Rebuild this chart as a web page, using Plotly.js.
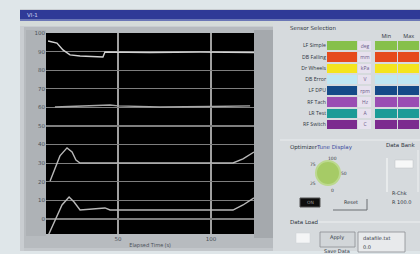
<!DOCTYPE html>
<html>
<head>
<meta charset="utf-8">
<script src="https://cdn.plot.ly/plotly-3.0.1.min.js"></script>
<style>
html,body{margin:0;padding:0;background:#dfe6e9;}
#chart{width:420px;height:254px;}
</style>
</head>
<body>
<div id="chart"></div>
<script>
// ---- Data: main strip chart (time vs. sensor value) ----
const line1X = [12.4, 17.2, 20.4, 24.2, 29.6, 37.6, 41.9, 43.0, 67.2, 94.1, 123.1];
const line1Y = [95.7, 94.6, 90.9, 88.2, 87.6, 87.1, 87.1, 89.8, 89.5, 89.8, 89.5];
const line2X = [16.1, 30.0, 43.0, 45.7, 50.0, 72.6, 100.0, 121.0];
const line2Y = [60.2, 60.8, 61.3, 61.3, 60.8, 60.2, 60.5, 60.8];
const line3X = [13.5, 16.1, 18.8, 22.6, 25.3, 27.4, 29.6, 51.1, 83.3, 111.8, 117.2, 123.1];
const line3Y = [20.4, 27.4, 33.9, 38.2, 36.0, 31.7, 30.1, 30.1, 30.1, 30.1, 32.3, 36.0];
const line4X = [12.4, 16.1, 19.9, 23.7, 26.4, 29.6, 35.0, 43.0, 45.7, 83.3, 111.8, 117.2, 123.1];
const line4Y = [-9.1, -0.5, 7.5, 11.8, 9.1, 4.8, 5.4, 5.9, 4.8, 4.8, 4.8, 7.5, 11.3];

// ---- Data: sensor selection table ----
const sensorNames = ["LF Simple", "DB Falling", "Dr Wheels", "DB Error", "LF DPU", "RF Tach", "LR Test", "RF Switch"];
const sensorColors = ["#86c04a", "#e64a1c", "#f4e41e", "#bfe6f3", "#154a88", "#9a4db3", "#1b9b97", "#7c2b8f"];
const sensorUnits = ["deg", "mm", "kPa", "V", "rpm", "Hz", "A", "C"];
const limitCols = ["Min", "Max"];

const W = 420, H = 254;
const fx = p => p / W, fy = p => 1 - p / H;
function rect(x0, y0, x1, y1, fill, lc, lw, layer) {
  return {type: 'rect', xref: 'paper', yref: 'paper', x0: fx(x0), x1: fx(x1), y0: fy(y1), y1: fy(y0),
    fillcolor: fill, line: {color: lc || fill, width: lw === undefined ? 0 : lw}, layer: layer || 'below'};
}
function seg(x0, y0, x1, y1, c, w) {
  return {type: 'line', xref: 'paper', yref: 'paper', x0: fx(x0), x1: fx(x1), y0: fy(y0), y1: fy(y1),
    line: {color: c, width: w || 1}, layer: 'above'};
}
function txt(x, y, s, size, color, anchor) {
  return {xref: 'paper', yref: 'paper', x: fx(x), y: fy(y), text: s, showarrow: false,
    xanchor: anchor || 'left', yanchor: 'middle', font: {size: size || 6, color: color || '#333a44', family: 'DejaVu Sans'}};
}

const lineStyle = (c) => ({color: c, width: 1.4});
const traces = [
  {x: line1X, y: line1Y, type: 'scatter', mode: 'lines', line: lineStyle('#d2d2d2'), xaxis: 'x', yaxis: 'y', hoverinfo: 'skip'},
  {x: line2X, y: line2Y, type: 'scatter', mode: 'lines', line: lineStyle('#a8a8a8'), xaxis: 'x', yaxis: 'y', hoverinfo: 'skip'},
  {x: line3X, y: line3Y, type: 'scatter', mode: 'lines', line: lineStyle('#b8b8b8'), xaxis: 'x', yaxis: 'y', hoverinfo: 'skip'},
  {x: line4X, y: line4Y, type: 'scatter', mode: 'lines', line: lineStyle('#b8b8b8'), xaxis: 'x', yaxis: 'y', hoverinfo: 'skip'}
];

const idx = sensorNames.map((_, i) => i);
const cs = sensorColors.map((c, i) => [i / (sensorColors.length - 1), c]);
traces.push({type: 'heatmap', x: ['Signal'], y: sensorNames, z: idx.map(i => [i]), colorscale: cs, zmin: 0, zmax: 7,
  showscale: false, ygap: 2, xaxis: 'x2', yaxis: 'y2', hoverinfo: 'skip'});
traces.push({type: 'heatmap', x: ['Unit'], y: sensorNames, z: idx.map(() => [0]), colorscale: [[0, '#e7e1ee'], [1, '#e7e1ee']],
  showscale: false, ygap: 2, xaxis: 'x3', yaxis: 'y2', hoverinfo: 'skip',
  text: sensorUnits.map(u => [u]), texttemplate: '%{text}', textfont: {size: 5, color: '#6a5a8a'}});
traces.push({type: 'heatmap', x: limitCols, y: sensorNames, z: idx.map(i => [i, i]), colorscale: cs, zmin: 0, zmax: 7,
  showscale: false, ygap: 2, xgap: 1, xaxis: 'x4', yaxis: 'y2', hoverinfo: 'skip'});

const shapes = [
  rect(0, 0, 20, 254, '#dfe6e9'),
  rect(0, 0, 420, 9, '#dfe6e9'),
  rect(0, 251, 420, 254, '#dfe6e9'),
  rect(20, 10, 420, 20, '#2f3a97'),
  rect(20, 19, 420, 21, '#6b77b6'),
  rect(20, 21, 420, 26, '#d5dbd9'),
  rect(24, 27, 273, 33, '#b7bbbf'),
  rect(24, 234, 273, 250, '#b7bbbf'),
  rect(24, 33, 46, 234, '#b7bbbf'),
  rect(26, 30, 46, 236, '#aeb2b6'),
  rect(254, 30, 273, 238, '#a5a9ad'),
  rect(273, 22, 420, 251, '#d6dadd'),
  rect(24, 248, 273, 251, '#c3c7cb'),
  seg(280, 140, 420, 140, '#e9ecee', 1),
  {type: 'circle', xref: 'paper', yref: 'paper', x0: fx(316), x1: fx(340), y0: fy(185), y1: fy(161),
    fillcolor: '#a6cb66', line: {color: '#bcd98e', width: 2}, layer: 'above'},
  rect(300, 198, 320, 207, '#0e0e0e', '#555', 1, 'above'),
  seg(333, 210, 367, 210, '#6a6e72', 1),
  seg(367, 199, 367, 210, '#6a6e72', 1),
  seg(387, 158, 387, 192, '#eef0f1', 1.5),
  seg(418, 150, 418, 192, '#eef0f1', 1),
  rect(395, 160, 413, 168, '#f7f8f8', '#bfc3c6', 0.5, 'above'),
  seg(310, 222, 420, 222, '#eef0f1', 1),
  rect(296, 233, 310, 243, '#f4f5f6', '#cfd2d4', 0.5, 'above'),
  rect(320, 232, 355, 247, '#d2d6d9', '#8a8e92', 0.8, 'above'),
  rect(358, 232, 405, 252, '#e8eaec', '#8a8e92', 0.8, 'above')
];

const annotations = [
  txt(25, 14.5, 'VI-1', 5.5, '#c8cff0'),
  txt(288, 28, 'Sensor Selection', 5.5, '#2d3440'),
  txt(288, 147, 'Optimizer', 5.5, '#2d3440'),
  txt(314, 147, 'Tune Display', 5.5, '#3a4aa0'),
  txt(384, 145, 'Data Bank', 5.5, '#2d3440'),
  txt(332, 158, '100', 4.5, '#3a3f46', 'center'),
  txt(313, 164, '75', 4.5, '#3a3f46', 'center'),
  txt(344, 173, '50', 4.5, '#3a3f46', 'center'),
  txt(313, 183, '25', 4.5, '#3a3f46', 'center'),
  txt(332, 190, '0', 4.5, '#3a3f46', 'center'),
  txt(310, 202.5, 'ON', 4.5, '#9a9a9a', 'center'),
  txt(351, 202, 'Reset', 5, '#2d3440', 'center'),
  txt(390, 193, 'R-Chk', 5, '#2d3440'),
  txt(390, 202, 'R 100.0', 5, '#2d3440'),
  txt(288, 222, 'Data Load', 5.5, '#2d3440'),
  txt(337, 237, 'Apply', 5, '#2d3440', 'center'),
  txt(337, 251, 'Save Data', 5, '#2d3440', 'center'),
  txt(361, 238, 'datafile.txt', 5, '#2d3440'),
  txt(361, 247, '0.0', 5, '#2d3440')
];

const tickFont = {size: 5.5, color: '#4a5058', family: 'DejaVu Sans'};
const layout = {
  width: W, height: H,
  margin: {l: 0, r: 0, t: 0, b: 0},
  paper_bgcolor: '#c9cdd1',
  plot_bgcolor: '#000000',
  showlegend: false,
  xaxis: {domain: [fx(46), fx(254)], range: [11.3, 123.1], tickvals: [50, 100], ticktext: ['50', '100'],
    showgrid: true, gridcolor: '#a0a0a0', gridwidth: 1.2, zeroline: false, ticks: '', tickfont: tickFont,
    title: {text: 'Elapsed Time (s)', font: {size: 5.5, color: '#4a5058'}, standoff: 2}, fixedrange: true},
  yaxis: {domain: [fy(234), fy(33)], range: [-8.1, 100], tick0: 0, dtick: 10, showgrid: true,
    gridcolor: '#7e7e7e', gridwidth: 1.2, zeroline: false, ticks: '', tickfont: tickFont, fixedrange: true},
  xaxis2: {domain: [fx(327), fx(357)], anchor: 'y2', showticklabels: false, showgrid: false, zeroline: false, ticks: ''},
  xaxis3: {domain: [fx(358), fx(371)], anchor: 'y2', showticklabels: false, showgrid: false, zeroline: false, ticks: ''},
  xaxis4: {domain: [fx(375), fx(420)], anchor: 'y2', side: 'top', showgrid: false, zeroline: false, ticks: '',
    tickfont: {size: 5.5, color: '#2d3440'}},
  yaxis2: {domain: [fy(130), fy(40)], anchor: 'x2', autorange: 'reversed', showgrid: false, zeroline: false, ticks: '',
    tickfont: {size: 5.2, color: '#2d3440'}},
  shapes: shapes,
  annotations: annotations
};

Plotly.newPlot('chart', traces, layout, {staticPlot: true, displayModeBar: false});
</script>
</body>
</html>
